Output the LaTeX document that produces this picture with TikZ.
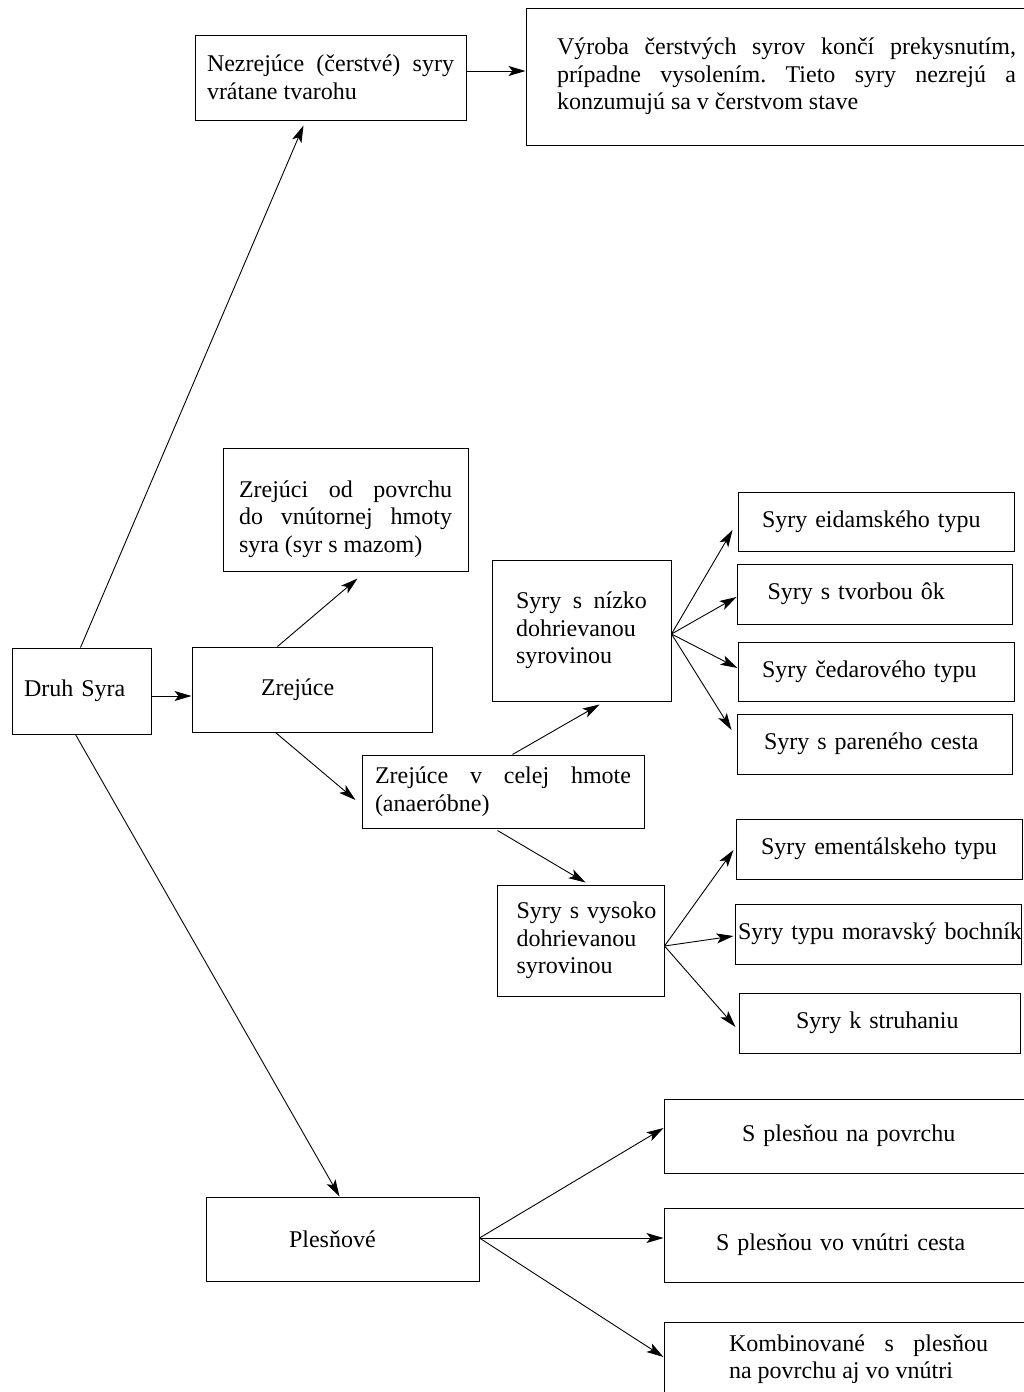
\documentclass[tikz,border=0pt]{standalone}
\usepackage{fontspec}
\setmainfont{Liberation Serif}
\usetikzlibrary{calc,arrows.meta}
\hyphenpenalty=10000 \exhyphenpenalty=10000 \tolerance=10000 \hbadness=10000 \vbadness=10000 \hfuzz=30pt
\frenchspacing
\begin{document}
\begin{tikzpicture}[x=1pt,y=-1pt,
  box/.style={draw=black, line width=1pt, inner xsep=0pt, inner ysep=0pt, font=\fontsize{24}{27.6}\selectfont\frenchspacing, align=left},
  jbox/.style={box, align=justify},
  arr/.style={-{Stealth[length=17pt,width=10pt,inset=4pt]}, line width=0.9pt}]
\useasboundingbox (0,0) rectangle (1024,1392);
% boxes
\node[box, minimum width=139pt, minimum height=86pt, text width=115pt] (druh) at (81.5,691) {\mbox{Druh Syra}};
\node[box, minimum width=240pt, minimum height=85pt, text width=102pt] (zrej) at (312,689.5) {\mbox{Zrejúce}};
\node[jbox, minimum width=271pt, minimum height=85pt, text width=247pt] (nez) at (330.5,77.5) {Nezrejúce (čerstvé) syry\linebreak vrátane tvarohu};
\node[jbox, minimum width=521pt, minimum height=137pt, text width=459pt] (vyr) at (786.5,76.5) {Výroba čerstvých syrov končí prekysnutím,\linebreak prípadne vysolením. Tieto syry nezrejú a\linebreak konzumujú sa v čerstvom stave};
\node[jbox, minimum width=245pt, minimum height=123pt, text width=213pt] (zov) at (345.5,509.5) {\rule{0pt}{36pt}Zrejúci od povrchu\linebreak do vnútornej hmoty\linebreak syra (syr s mazom)};
\node[jbox, minimum width=282pt, minimum height=73pt, text width=256pt] (cel) at (503,791.5) {Zrejúce v celej hmote\linebreak (anaeróbne)};
\node[jbox, minimum width=179pt, minimum height=141pt, text width=131pt] (niz) at (581.5,630.5) {Syry s nízko\linebreak dohrievanou\linebreak syrovinou};
\node[box, minimum width=167pt, minimum height=111pt, text width=128pt] (vys) at (580.5,940.5) {\mbox{Syry s vysoko}\\dohrievanou\\syrovinou};
\node[box, minimum width=276pt, minimum height=59pt, text width=228pt] (eid) at (876,521.5) {\mbox{Syry eidamského typu}};
\node[box, minimum width=275pt, minimum height=60pt, text width=214pt] (tvo) at (874.5,594) {\mbox{Syry s tvorbou ôk}};
\node[box, minimum width=276pt, minimum height=59pt, text width=228pt] (ced) at (876,671.5) {\mbox{Syry čedarového typu}};
\node[box, minimum width=275pt, minimum height=60pt, text width=221pt] (par) at (874.5,744) {\mbox{Syry s pareného cesta}};
\node[box, minimum width=286pt, minimum height=60pt, text width=236pt] (eme) at (879,849) {\mbox{Syry ementálskeho typu}};
\node[box, minimum width=286pt, minimum height=60pt, text width=280pt] (mor) at (878,934) {\mbox{Syry typu moravský bochník}};
\node[box, minimum width=281pt, minimum height=60pt, text width=167pt] (str) at (879.5,1023) {\mbox{Syry k struhaniu}};
\node[box, minimum width=273pt, minimum height=84pt, text width=107pt] (ples) at (342.5,1239) {\mbox{Plesňové}};
\node[box, minimum width=389pt, minimum height=74pt, text width=233pt] (ppov) at (858.5,1136) {\mbox{S plesňou na povrchu}};
\node[box, minimum width=389pt, minimum height=74pt, text width=285pt] (pvn) at (858.5,1245) {\mbox{S plesňou vo vnútri cesta}};
\node[jbox, minimum width=389pt, minimum height=74pt, text width=259pt] (kom) at (858.5,1359) {Kombinované s plesňou\linebreak na povrchu aj vo vnútri};
% connectors
\draw[arr] ($(druh.north west)+(69,0)$) -- ($(nez.south west)+(109,5)$);
\draw[arr] ($(druh.east)+(0,5)$) -- ($(zrej.west)+(0,6.5)$);
\draw[arr] ($(druh.south west)+(64,0)$) -- ($(ples.north west)+(134,0)$);
\draw[arr] ($(nez.east)+(0,-6.5)$) -- ($(vyr.west)+(0,-5.5)$);
\draw[arr] ($(zrej.north west)+(86,0)$) -- ($(zov.south west)+(135,7)$);
\draw[arr] ($(zrej.south west)+(84,0)$) -- ($(cel.west)+(-6,8.5)$);
\draw[arr] ($(cel.north west)+(151,0)$) -- ($(niz.south west)+(108,3)$);
\draw[arr] ($(cel.south west)+(136,2)$) -- ($(vys.north west)+(89,-2)$);
\draw[arr] ($(niz.east)+(0,3.5)$) -- ($(eid.west)+(-5,8.5)$);
\draw[arr] ($(niz.east)+(0,3.5)$) -- ($(tvo.west)+(0,3)$);
\draw[arr] ($(niz.east)+(0,3.5)$) -- ($(ced.west)+(0,-3.5)$);
\draw[arr] ($(niz.east)+(0,3.5)$) -- ($(par.west)+(-5,-14)$);
\draw[arr] ($(vys.east)+(0,5.5)$) -- ($(eme.west)+(-2,1)$);
\draw[arr] ($(vys.east)+(0,5.5)$) -- ($(mor.west)+(-1,2)$);
\draw[arr] ($(vys.east)+(0,5.5)$) -- ($(str.west)+(-3,4)$);
\draw[arr] ($(ples.east)+(0,-1)$) -- ($(ppov.west)+(0,-8)$);
\draw[arr] ($(ples.east)+(0,-1)$) -- ($(pvn.west)+(0,-7)$);
\draw[arr] ($(ples.east)+(0,-1)$) -- ($(kom.west)+(0,-2)$);
\end{tikzpicture}
\end{document}
